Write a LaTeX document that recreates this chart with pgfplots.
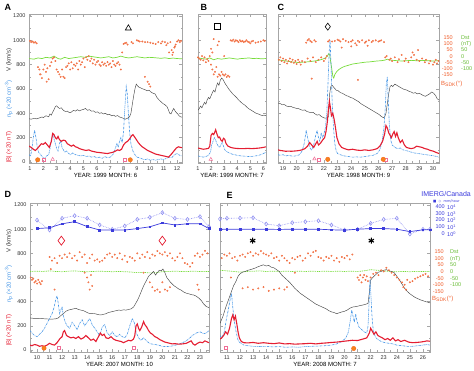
\documentclass[border=0pt]{standalone}
\usepackage{pgfplots}
\pgfplotsset{compat=1.18}
\usepackage{fontspec}
\setmainfont{Liberation Sans}
\newfontfamily\dejavu{DejaVu Sans}
\definecolor{cV}{RGB}{70,70,70}
\definecolor{cN}{RGB}{70,150,230}
\definecolor{cB}{RGB}{228,30,50}
\definecolor{cD}{RGB}{120,220,60}
\definecolor{cA}{RGB}{240,95,45}
\definecolor{cI}{RGB}{60,60,220}
\definecolor{cI2}{RGB}{135,135,240}
\definecolor{cO}{RGB}{245,130,30}
\definecolor{cP}{RGB}{240,110,150}
\newcommand\fs{\fontsize{5.5}{6}\selectfont}
\newcommand\fl{\fontsize{6}{7}\selectfont}
\pgfplotsset{
 panel/.style={
  scale only axis, height=149pt,
  ytick={0,200,...,1200}, minor y tick num=1,
  xtick distance=1, minor x tick num=1,
  tick align=inside, major tick length=3pt, minor tick length=1.5pt,
  axis line style={gray!70, line width=0.5pt},
  every tick/.style={gray!70, line width=0.4pt},
  tick label style={font=\fs, text=black!80},
  xticklabel style={yshift=-0.5pt},
  xlabel style={font=\fl, yshift=4pt},
  /pgf/number format/assume math mode=true,
  /pgf/number format/1000 sep={},
 },
 Vl/.style={cV, line width=0.45pt, no marks},
 Nl/.style={cN, line width=0.6pt, dash pattern=on 2pt off 0.8pt on 0.5pt off 0.8pt, no marks},
 Bl/.style={cB, line width=1.1pt, no marks},
 Dl/.style={cD, line width=0.7pt, no marks},
 Ang/.style={only marks, mark=*, mark size=0.8pt, mark options={fill=cA!60!white, draw=cA, line width=0.25pt}},
 Orng/.style={only marks, mark=*, mark size=2.2pt, mark options={fill=cO, draw=cO!80!red}},
 Pnk/.style={only marks, mark=triangle, mark size=2pt, mark options={draw=cP, line width=0.5pt}},
 PnkS/.style={only marks, mark=square, mark size=1.5pt, mark options={draw=cP, line width=0.5pt}},
 Im1/.style={cI, line width=0.7pt, mark=square*, mark size=0.9pt, mark options={fill=cI}},
 Im2/.style={cI2, line width=0.6pt, densely dotted, mark=diamond, mark size=2pt, mark options={solid, draw=cI2, line width=0.5pt}},
}
\begin{document}
\begin{tikzpicture}[x=1pt,y=1pt]
\useasboundingbox (0,0) rectangle (474,371);
% ---------------- Panel A ----------------
\begin{axis}[panel, at={(29pt,208pt)}, anchor=south west, width=153pt,
 xmin=0.93, xmax=12.37, ymin=-8, ymax=1216, xlabel={YEAR: 1999 MONTH: 6}]
\addplot[Ang] coordinates {(1.0,995)(1.1,985)(1.2,990)(1.3,980)(1.4,985)(1.5,975)(1.6,780)(1.7,760)(1.75,720)(1.8,720)(1.9,690)(2.0,760)(2.1,800)(2.2,740)(2.25,660)(2.3,770)(2.4,680)(2.5,790)(2.6,820)(2.7,850)(2.8,860)(2.9,830)(3.0,760)(3.1,740)(3.2,720)(3.3,700)(3.4,760)(3.5,700)(3.6,690)(3.7,780)(3.8,790)(3.9,810)(4.0,760)(4.1,820)(4.2,770)(4.3,800)(4.4,790)(4.5,810)(4.6,760)(4.7,830)(4.8,800)(4.9,820)(5.0,850)(5.1,780)(5.2,860)(5.3,840)(5.4,870)(5.5,830)(5.6,850)(5.7,810)(5.8,840)(5.9,800)(6.0,820)(6.1,830)(6.2,800)(6.3,790)(6.4,820)(6.5,800)(6.6,810)(6.7,790)(6.8,820)(6.9,800)(7.0,810)(7.1,780)(7.2,830)(7.3,800)(7.4,790)(7.5,810)(7.6,820)(7.7,800)(7.8,760)(7.9,900)(8.0,970)(8.1,975)(8.2,980)(8.3,965)(8.6,985)(8.7,975)(9.0,1000)(9.1,995)(9.2,990)(9.4,990)(9.6,985)(9.8,985)(10.0,980)(10.2,975)(10.4,970)(10.6,985)(10.8,975)(10.9,990)(11.1,985)(11.2,960)(11.3,975)(11.5,985)(11.6,920)(11.7,900)(11.8,940)(11.9,965)(12.0,990)(12.1,1000)(12.2,985)(12.3,995)(9.6,700)(9.8,660)(9.9,640)(10.0,620)(11.4,900)(11.65,880)(11.85,950)};
\addplot[Dl] coordinates {(0.93,850)(1.3,845)(1.6,855)(1.9,850)(2.2,860)(2.5,855)(2.8,870)(3.1,850)(3.3,845)(3.6,860)(3.9,850)(4.2,855)(4.5,860)(4.8,865)(5.1,860)(5.4,870)(5.7,865)(6.0,860)(6.3,855)(6.6,860)(6.9,865)(7.2,855)(7.5,860)(7.8,870)(8.1,860)(8.4,855)(8.7,860)(9.0,865)(9.3,860)(9.6,855)(9.9,860)(10.2,858)(10.5,855)(10.8,852)(11.1,856)(11.4,850)(11.7,854)(12.0,850)(12.37,848)};
\addplot[Vl] coordinates {(0.93,355)(1.1,352)(1.3,358)(1.5,355)(1.7,362)(1.9,370)(2.0,365)(2.2,380)(2.4,372)(2.5,395)(2.6,385)(2.7,410)(2.8,430)(2.9,455)(3.0,462)(3.1,450)(3.2,440)(3.35,445)(3.5,425)(3.65,415)(3.8,418)(3.95,405)(4.1,410)(4.25,425)(4.4,418)(4.55,430)(4.7,420)(4.85,428)(5.0,432)(5.15,440)(5.3,425)(5.45,430)(5.6,418)(5.75,420)(5.9,408)(6.05,412)(6.2,400)(6.35,405)(6.5,395)(6.65,400)(6.8,388)(6.95,392)(7.1,380)(7.25,385)(7.4,375)(7.55,382)(7.7,370)(7.85,365)(8.0,358)(8.15,352)(8.3,360)(8.45,372)(8.55,400)(8.65,470)(8.75,540)(8.85,600)(8.95,640)(9.05,625)(9.15,615)(9.3,608)(9.45,600)(9.6,595)(9.75,585)(9.9,590)(10.05,575)(10.2,565)(10.35,560)(10.5,530)(10.65,510)(10.8,495)(10.95,480)(11.1,470)(11.25,455)(11.35,430)(11.45,400)(11.55,395)(11.65,420)(11.75,440)(11.85,420)(11.95,405)(12.05,395)(12.15,380)(12.25,372)(12.37,368)};
\addplot[Nl] coordinates {(0.93,60)(1.05,50)(1.15,110)(1.25,200)(1.35,260)(1.45,200)(1.55,120)(1.65,80)(1.8,60)(1.95,40)(2.1,30)(2.25,50)(2.4,60)(2.5,110)(2.6,180)(2.7,230)(2.8,190)(2.9,150)(3.0,110)(3.1,90)(3.2,150)(3.3,175)(3.4,120)(3.5,100)(3.6,80)(3.75,90)(3.9,70)(4.05,60)(4.2,75)(4.4,60)(4.6,55)(4.8,50)(5.0,55)(5.2,45)(5.4,50)(5.6,40)(5.8,45)(6.0,35)(6.2,40)(6.4,30)(6.6,45)(6.8,35)(7.0,40)(7.2,60)(7.35,100)(7.5,150)(7.6,120)(7.7,170)(7.8,200)(7.9,160)(8.0,250)(8.1,450)(8.2,620)(8.28,560)(8.35,420)(8.45,250)(8.55,150)(8.7,90)(8.85,60)(9.0,40)(9.2,35)(9.4,25)(9.6,20)(9.8,25)(10.0,15)(10.2,20)(10.4,15)(10.6,20)(10.8,25)(11.0,20)(11.2,30)(11.4,40)(11.6,35)(11.8,60)(12.0,70)(12.2,55)(12.37,50)};
\addplot[Bl] coordinates {(0.93,130)(1.1,120)(1.25,105)(1.4,95)(1.55,110)(1.7,130)(1.85,150)(2.0,145)(2.15,160)(2.3,140)(2.45,120)(2.6,170)(2.7,235)(2.8,225)(2.9,200)(3.0,190)(3.1,210)(3.2,185)(3.35,170)(3.5,180)(3.65,175)(3.8,150)(3.95,140)(4.1,130)(4.25,140)(4.4,125)(4.55,120)(4.7,110)(4.85,105)(5.0,100)(5.2,95)(5.4,100)(5.6,90)(5.8,85)(6.0,80)(6.2,78)(6.4,75)(6.6,72)(6.8,70)(7.0,75)(7.2,80)(7.4,90)(7.55,100)(7.7,95)(7.85,105)(8.0,140)(8.15,160)(8.3,170)(8.45,190)(8.6,215)(8.7,225)(8.8,210)(8.95,185)(9.1,160)(9.25,140)(9.4,125)(9.6,110)(9.8,95)(10.0,85)(10.2,75)(10.4,65)(10.6,60)(10.8,55)(11.0,50)(11.2,45)(11.35,40)(11.5,55)(11.65,75)(11.8,95)(11.95,115)(12.1,125)(12.25,120)(12.37,118)};
\addplot[only marks, mark=triangle, mark size=3.5pt, mark options={draw=black, line width=0.6pt}] coordinates {(8.36,1099)};
\addplot[Pnk] coordinates {(2.7,22)};
\addplot[PnkS] coordinates {(2.05,18)(8.1,18)};
\addplot[Orng] coordinates {(1.58,18)(8.5,18)};
\end{axis}
% ---------------- Panel B ----------------
\begin{axis}[panel, at={(198pt,208pt)}, anchor=south west, width=68pt,
 xmin=1.0, xmax=6.2, ymin=-8, ymax=1216, yticklabels={}, xlabel={YEAR: 1999 MONTH: 7}]
\addplot[Ang] coordinates {(1.0,860)(1.1,850)(1.2,840)(1.3,870)(1.4,835)(1.5,860)(1.6,820)(1.7,845)(1.8,830)(1.9,870)(2.0,800)(2.1,760)(2.2,720)(2.3,740)(2.4,780)(2.5,700)(2.6,720)(2.7,710)(2.8,740)(2.9,720)(3.0,710)(3.1,720)(3.2,700)(3.3,710)(3.4,700)(2.5,960)(2.6,990)(2.2,1010)(2.0,930)(2.1,900)(3.0,870)(3.5,1000)(3.6,995)(3.7,1005)(3.8,990)(3.9,1000)(4.0,995)(4.1,985)(4.2,1000)(4.3,990)(4.4,995)(4.5,985)(4.6,990)(4.7,1000)(4.8,990)(4.9,985)(5.0,975)(5.1,990)(5.2,995)(5.4,980)(5.6,985)(5.8,990)(6.0,1000)(6.1,995)};
\addplot[Dl] coordinates {(1.0,855)(1.3,850)(1.6,845)(1.9,855)(2.2,840)(2.5,850)(2.8,845)(3.1,850)(3.4,855)(3.7,850)(4.0,845)(4.3,850)(4.6,852)(4.9,855)(5.2,850)(5.5,852)(5.8,848)(6.2,850)};
\addplot[Vl] coordinates {(1.0,425)(1.1,440)(1.2,460)(1.3,445)(1.4,470)(1.5,490)(1.6,475)(1.7,510)(1.8,530)(1.9,520)(2.0,545)(2.1,570)(2.2,590)(2.3,575)(2.4,620)(2.5,650)(2.6,630)(2.7,670)(2.8,690)(2.9,680)(3.0,660)(3.1,640)(3.2,625)(3.35,600)(3.5,580)(3.65,560)(3.8,545)(3.95,530)(4.1,510)(4.25,495)(4.4,480)(4.55,470)(4.7,455)(4.85,440)(5.0,430)(5.15,420)(5.3,410)(5.45,400)(5.6,395)(5.75,388)(5.9,382)(6.05,385)(6.2,380)};
\addplot[Nl] coordinates {(1.0,50)(1.2,45)(1.4,40)(1.6,45)(1.8,55)(1.95,80)(2.05,140)(2.15,170)(2.25,200)(2.35,180)(2.45,150)(2.55,130)(2.65,120)(2.75,140)(2.85,160)(2.95,130)(3.05,100)(3.2,85)(3.4,75)(3.6,65)(3.8,60)(4.0,55)(4.3,50)(4.6,48)(4.9,45)(5.2,47)(5.5,52)(5.8,60)(6.0,70)(6.2,80)};
\addplot[Bl] coordinates {(1.0,115)(1.2,110)(1.4,105)(1.6,108)(1.8,112)(1.9,130)(2.0,220)(2.1,235)(2.2,225)(2.3,250)(2.35,265)(2.45,230)(2.55,200)(2.65,205)(2.75,180)(2.85,170)(2.95,195)(3.05,185)(3.15,150)(3.3,130)(3.5,120)(3.7,115)(3.9,112)(4.2,110)(4.5,110)(4.8,112)(5.1,110)(5.4,112)(5.7,115)(6.0,120)(6.2,125)};
\addplot[only marks, mark=square, mark size=3pt, mark options={draw=black, line width=0.6pt}] coordinates {(2.49,1112)};
\addplot[Pnk] coordinates {(1.98,22)};
\end{axis}
% ---------------- Panel C ----------------
\begin{axis}[panel, at={(278pt,208pt)}, anchor=south west, width=161pt,
 xmin=18.63, xmax=30.44, ymin=-8, ymax=1216, yticklabels={}, xlabel={YEAR: 1998 MONTH: 9}]
\addplot[Ang] coordinates {(18.7,840)(18.8,860)(18.9,830)(19.0,850)(19.1,820)(19.2,840)(19.3,810)(19.4,830)(19.5,850)(19.6,820)(19.7,840)(19.8,815)(19.9,830)(20.0,805)(20.1,840)(20.2,820)(20.3,800)(20.4,830)(20.6,820)(20.8,850)(21.0,830)(21.2,860)(21.4,820)(21.6,840)(21.8,860)(22.0,830)(22.1,850)(22.2,870)(20.7,980)(20.8,1000)(20.9,1010)(21.0,995)(21.1,985)(21.3,1000)(21.4,990)(22.3,990)(22.4,1000)(22.6,990)(22.8,995)(23.0,1005)(23.1,1000)(23.2,990)(23.4,1010)(23.6,995)(23.8,985)(24.0,990)(24.1,1000)(24.3,975)(24.5,995)(24.6,985)(24.8,1000)(25.0,980)(25.1,990)(25.3,1000)(25.5,985)(25.6,995)(25.8,1000)(26.0,990)(26.1,995)(26.2,1000)(26.4,985)(24.0,950)(24.4,960)(25.2,955)(23.3,940)(21.1,685)(24.5,675)(26.5,860)(26.6,870)(26.8,840)(26.9,850)(27.0,830)(27.2,860)(27.4,820)(27.5,845)(27.7,880)(27.9,830)(28.0,850)(28.2,820)(28.4,860)(28.5,900)(28.6,880)(28.8,840)(28.9,920)(29.0,830)(29.2,850)(29.4,820)(29.5,840)(29.7,810)(29.8,830)(30.0,800)(30.1,820)(30.2,840)(30.3,810)(30.4,830)};
\addplot[Dl] coordinates {(18.63,840)(18.9,835)(19.2,830)(19.5,825)(19.8,820)(20.1,818)(20.4,820)(20.7,822)(21.0,825)(21.3,830)(21.6,835)(21.9,845)(22.1,855)(22.25,870)(22.35,890)(22.42,880)(22.5,820)(22.58,760)(22.66,700)(22.72,690)(22.8,720)(22.95,745)(23.1,760)(23.3,775)(23.5,785)(23.8,795)(24.1,805)(24.4,810)(24.7,815)(25.0,820)(25.3,822)(25.6,826)(25.9,830)(26.2,832)(26.5,838)(26.65,845)(26.8,838)(27.1,835)(27.4,832)(27.7,830)(28.0,832)(28.4,835)(28.8,832)(29.2,835)(29.6,832)(30.0,830)(30.44,832)};
\addplot[Vl] coordinates {(18.63,485)(18.8,480)(18.95,470)(19.1,472)(19.25,460)(19.4,455)(19.55,458)(19.7,450)(19.85,445)(20.0,440)(20.15,438)(20.3,430)(20.45,425)(20.6,428)(20.75,415)(20.9,410)(21.05,405)(21.2,408)(21.35,395)(21.5,385)(21.65,390)(21.8,375)(21.95,365)(22.1,360)(22.25,362)(22.35,380)(22.42,560)(22.5,620)(22.6,630)(22.75,610)(22.9,590)(23.05,585)(23.2,570)(23.35,565)(23.5,555)(23.65,545)(23.8,540)(23.95,530)(24.1,525)(24.25,515)(24.4,505)(24.55,495)(24.7,480)(24.85,470)(25.0,460)(25.15,450)(25.3,440)(25.45,430)(25.6,420)(25.75,410)(25.9,400)(26.05,390)(26.2,375)(26.35,365)(26.45,370)(26.55,400)(26.65,480)(26.75,560)(26.85,620)(26.95,630)(27.05,620)(27.2,640)(27.35,630)(27.5,620)(27.65,610)(27.8,600)(27.95,595)(28.1,590)(28.25,580)(28.4,575)(28.55,565)(28.7,570)(28.85,560)(29.0,565)(29.15,555)(29.3,545)(29.45,540)(29.6,550)(29.75,560)(29.9,575)(30.05,565)(30.2,545)(30.3,520)(30.44,510)};
\addplot[Nl] coordinates {(18.63,60)(18.8,55)(19.0,60)(19.2,50)(19.4,55)(19.6,50)(19.8,48)(20.0,52)(20.2,60)(20.4,90)(20.55,150)(20.7,260)(20.8,200)(20.9,150)(21.0,110)(21.1,100)(21.25,140)(21.4,220)(21.5,260)(21.6,200)(21.7,170)(21.8,240)(21.9,200)(22.0,230)(22.1,280)(22.2,380)(22.3,650)(22.38,900)(22.45,1000)(22.52,800)(22.6,500)(22.7,280)(22.8,150)(22.9,90)(23.0,70)(23.2,60)(23.5,50)(23.8,45)(24.1,40)(24.4,42)(24.7,40)(25.0,45)(25.3,50)(25.6,55)(25.9,70)(26.1,100)(26.25,160)(26.4,280)(26.5,450)(26.58,650)(26.65,700)(26.72,500)(26.8,300)(26.9,180)(27.0,140)(27.2,120)(27.4,110)(27.6,115)(27.8,100)(28.0,95)(28.3,85)(28.6,75)(28.9,70)(29.2,65)(29.5,60)(29.8,55)(30.1,50)(30.44,40)};
\addplot[Bl] coordinates {(18.63,100)(18.8,95)(19.0,92)(19.2,88)(19.4,90)(19.6,88)(19.8,90)(20.0,92)(20.2,95)(20.4,100)(20.6,110)(20.8,130)(20.95,160)(21.1,140)(21.25,120)(21.4,150)(21.5,170)(21.6,140)(21.75,155)(21.9,180)(22.05,200)(22.15,250)(22.25,330)(22.32,420)(22.4,500)(22.47,450)(22.55,380)(22.65,400)(22.75,350)(22.85,280)(22.95,200)(23.1,150)(23.3,120)(23.5,110)(23.8,100)(24.1,105)(24.4,98)(24.7,95)(25.0,100)(25.3,95)(25.6,100)(25.9,110)(26.1,130)(26.3,170)(26.45,230)(26.55,300)(26.65,280)(26.75,240)(26.85,220)(26.95,200)(27.05,230)(27.15,250)(27.25,210)(27.35,240)(27.45,200)(27.6,160)(27.75,180)(27.9,140)(28.05,120)(28.2,115)(28.4,110)(28.6,115)(28.8,130)(29.0,125)(29.2,120)(29.4,110)(29.6,105)(29.8,95)(30.0,90)(30.2,80)(30.44,70)};
\addplot[only marks, mark=diamond, mark size=3.5pt, mark options={draw=black, line width=0.6pt}] coordinates {(22.28,1112)};
\addplot[Pnk] coordinates {(21.3,25)};
\addplot[PnkS] coordinates {(21.6,22)(26.55,22)};
\addplot[Orng] coordinates {(22.28,22)(26.35,22)};
\end{axis}
% ---------------- Panel D ----------------
\begin{axis}[panel, at={(30pt,19pt)}, anchor=south west, width=179pt,
 xmin=9.44, xmax=23.72, ymin=-17, ymax=1217, xlabel={YEAR: 2007 MONTH: 10}]
\addplot[Ang] coordinates {(9.5,600)(9.6,580)(9.7,590)(9.8,560)(9.9,570)(10.0,550)(10.1,580)(10.2,560)(10.3,545)(10.4,570)(11.0,770)(11.2,740)(11.4,760)(11.6,720)(11.8,780)(12.0,760)(12.2,790)(12.4,770)(12.6,800)(12.8,760)(13.0,780)(13.2,740)(13.4,810)(13.6,770)(13.8,790)(14.0,720)(14.2,760)(14.4,790)(14.6,740)(14.8,750)(15.0,730)(15.2,740)(15.4,760)(15.6,790)(15.8,800)(16.0,770)(16.2,790)(16.4,760)(16.6,800)(16.8,750)(17.0,780)(17.2,730)(17.4,770)(17.6,760)(17.8,740)(18.0,800)(18.2,760)(18.4,790)(18.6,770)(18.8,810)(19.0,760)(19.2,790)(19.4,780)(19.6,820)(19.8,800)(20.0,790)(20.2,810)(20.4,780)(20.6,800)(20.8,760)(21.0,740)(21.2,770)(21.4,800)(21.6,760)(21.8,720)(22.0,710)(22.2,690)(22.4,720)(22.6,780)(22.8,800)(23.0,770)(23.2,790)(23.4,820)(23.6,800)(11.1,670)(11.4,500)(14.0,600)(14.1,560)(14.2,500)(14.3,620)(14.4,530)(13.8,640)(18.5,640)(19.0,560)(19.2,520)(19.4,490)(19.6,500)(19.8,480)(20.0,560)(20.2,500)(20.4,490)(20.6,520)(22.8,540)(22.9,500)};
\addplot[Dl, dash pattern=on 1pt off 0.8pt] coordinates {(9.44,650)(10.0,652)(10.5,650)(11.0,655)(11.5,650)(12.0,648)(12.5,652)(13.0,655)(13.5,650)(14.0,648)(14.5,650)(15.0,652)(15.5,650)(16.0,648)(16.5,650)(17.0,648)(17.5,645)(18.0,640)(18.5,642)(19.0,638)(19.5,640)(20.0,648)(20.5,650)(21.0,652)(21.5,650)(22.0,650)(22.5,652)(23.0,650)(23.72,650)};
\addplot[Vl] coordinates {(9.44,265)(9.7,262)(10.0,262)(10.3,260)(10.6,258)(10.9,256)(11.2,255)(11.5,258)(11.7,265)(11.9,285)(12.1,300)(12.3,320)(12.5,330)(12.7,335)(12.9,340)(13.1,345)(13.3,335)(13.5,330)(13.7,325)(13.9,315)(14.1,305)(14.3,300)(14.5,302)(14.7,298)(14.9,292)(15.1,290)(15.3,295)(15.5,300)(15.7,310)(15.9,315)(16.1,320)(16.3,325)(16.5,330)(16.7,328)(16.9,332)(17.1,330)(17.3,335)(17.5,340)(17.7,355)(17.9,390)(18.1,430)(18.3,480)(18.5,530)(18.7,570)(18.9,610)(19.1,630)(19.3,650)(19.45,620)(19.6,640)(19.75,660)(19.9,655)(20.05,670)(20.2,640)(20.35,600)(20.5,580)(20.65,560)(20.8,545)(20.95,530)(21.1,520)(21.3,505)(21.5,495)(21.7,480)(21.9,470)(22.1,465)(22.3,458)(22.5,455)(22.7,445)(22.9,430)(23.1,410)(23.3,380)(23.5,360)(23.72,350)};
\addplot[Nl] coordinates {(9.44,160)(9.6,140)(9.8,120)(10.0,110)(10.2,130)(10.4,150)(10.6,180)(10.8,220)(11.0,260)(11.2,300)(11.35,350)(11.5,420)(11.6,450)(11.7,380)(11.8,300)(11.9,330)(12.0,360)(12.1,280)(12.25,230)(12.4,200)(12.6,180)(12.8,230)(13.0,200)(13.2,170)(13.4,220)(13.6,250)(13.8,200)(14.0,230)(14.2,260)(14.4,210)(14.6,180)(14.8,150)(15.0,120)(15.2,190)(15.4,210)(15.6,140)(15.8,120)(16.0,150)(16.2,120)(16.4,110)(16.6,130)(16.8,110)(17.0,100)(17.2,130)(17.4,200)(17.6,260)(17.75,230)(17.9,150)(18.1,100)(18.3,80)(18.5,100)(18.7,80)(18.9,60)(19.1,50)(19.4,45)(19.7,40)(20.0,30)(20.3,28)(20.6,30)(20.9,35)(21.2,45)(21.5,55)(21.8,70)(22.1,90)(22.4,120)(22.7,140)(23.0,150)(23.3,135)(23.5,140)(23.72,160)};
\addplot[Bl] coordinates {(9.44,40)(9.6,35)(9.8,45)(10.0,40)(10.2,30)(10.4,35)(10.6,30)(10.8,40)(11.0,55)(11.2,45)(11.4,40)(11.6,60)(11.8,90)(12.0,110)(12.1,150)(12.2,160)(12.35,120)(12.5,110)(12.7,100)(12.9,105)(13.1,95)(13.3,110)(13.5,90)(13.7,100)(13.9,120)(14.1,100)(14.3,80)(14.5,90)(14.7,70)(14.9,110)(15.05,140)(15.2,120)(15.35,130)(15.5,100)(15.7,95)(15.9,110)(16.1,90)(16.3,80)(16.5,75)(16.7,70)(16.9,60)(17.1,70)(17.3,80)(17.5,75)(17.7,90)(17.8,120)(17.9,200)(18.0,215)(18.1,180)(18.2,160)(18.35,190)(18.5,235)(18.6,210)(18.75,190)(18.9,160)(19.05,140)(19.2,130)(19.4,110)(19.6,100)(19.8,85)(20.0,75)(20.2,65)(20.4,60)(20.6,55)(20.8,50)(21.0,52)(21.3,48)(21.6,50)(21.9,55)(22.1,65)(22.3,75)(22.45,50)(22.6,40)(22.8,55)(23.0,65)(23.2,60)(23.4,75)(23.6,65)(23.72,60)};
\addplot[Im2] coordinates {(10,1075)(11,993)(12,1090)(13,1112)(14,1090)(15,1035)(16,999)(17,1026)(18,1081)(19,1098)(20,1137)(21,1090)(22,1081)(23,1104)(23.72,1021)};
\addplot[Im1] coordinates {(10,1005)(11,1012)(12,1045)(13,1062)(14,1022)(15,993)(16,993)(17,993)(18,1005)(19,1020)(20,1052)(21,1035)(22,1045)(23,1045)(23.72,1005)};
\addplot[only marks, mark=diamond, mark size=4.5pt, mark options={draw=cB, line width=0.7pt}] coordinates {(11.94,905)(20.0,905)};
\addplot[Orng] coordinates {(10.56,15)};
\addplot[PnkS] coordinates {(11.7,15)(17.7,15)};
\end{axis}
% ---------------- Panel E ----------------
\begin{axis}[panel, at={(220pt,19pt)}, anchor=south west, width=210pt,
 xmin=10.47, xmax=26.54, ymin=-17, ymax=1217, yticklabels={}, xlabel={YEAR: 2008 MONTH: 7}]
\addplot[Ang] coordinates {(10.6,760)(10.8,790)(11.0,780)(11.2,800)(11.4,760)(11.6,770)(11.8,740)(12.0,780)(12.2,790)(12.4,770)(12.6,800)(12.8,810)(13.0,780)(13.2,800)(13.4,790)(13.6,820)(13.8,800)(14.0,790)(14.2,780)(14.4,800)(14.6,760)(14.8,770)(15.0,740)(15.2,780)(15.4,760)(15.6,740)(15.8,720)(16.0,760)(16.2,750)(16.4,770)(16.6,780)(16.8,740)(17.0,760)(17.2,800)(17.4,780)(17.6,810)(17.8,820)(18.0,770)(18.2,760)(18.4,740)(18.6,770)(18.8,760)(19.0,780)(19.2,740)(19.4,760)(19.6,730)(19.8,770)(20.0,760)(20.2,780)(20.4,750)(20.6,790)(12.2,510)(12.6,520)(13.0,500)(13.4,510)(13.8,520)(14.2,490)(14.6,500)(15.0,510)(15.4,500)(15.6,520)(16.2,640)(11.3,600)(21.0,600)(21.1,580)(21.2,620)(21.3,560)(21.4,600)(21.5,620)(21.6,580)(21.7,610)(21.8,570)(22.0,600)(22.2,630)(22.4,640)(22.6,620)(22.8,660)(23.0,650)(23.2,680)(23.4,660)(23.6,640)(23.8,620)(24.0,600)(24.2,580)(24.4,560)(24.6,540)(24.8,580)(25.0,560)(25.2,570)(25.4,590)(25.6,600)(25.8,610)(26.0,620)(26.2,630)(26.4,610)(24.5,520)(24.7,500)};
\addplot[Dl, dash pattern=on 1pt off 0.8pt] coordinates {(10.47,660)(11.0,655)(11.5,650)(12.0,645)(12.5,650)(13.0,652)(13.5,655)(14.0,650)(14.5,652)(15.0,650)(15.5,652)(16.0,650)(16.5,652)(17.0,650)(17.5,652)(18.0,650)(18.5,652)(19.0,650)(19.5,652)(20.0,650)(20.5,652)(21.0,650)(21.5,655)(22.0,665)(22.5,660)(23.0,655)(23.5,650)(24.0,648)(24.5,650)(25.0,648)(25.5,650)(26.0,650)(26.54,650)};
\addplot[Vl] coordinates {(10.47,220)(10.7,280)(10.9,350)(11.1,410)(11.3,470)(11.5,530)(11.7,570)(11.85,610)(12.0,630)(12.2,645)(12.4,650)(12.6,660)(12.8,665)(13.0,672)(13.2,680)(13.4,690)(13.6,698)(13.8,705)(14.0,695)(14.2,700)(14.4,685)(14.6,680)(14.8,665)(15.0,650)(15.2,620)(15.4,600)(15.6,580)(15.8,560)(16.0,535)(16.2,510)(16.4,490)(16.6,470)(16.8,455)(17.0,440)(17.2,425)(17.4,410)(17.6,395)(17.8,380)(18.0,370)(18.2,360)(18.4,350)(18.6,340)(18.8,325)(19.0,315)(19.2,310)(19.4,300)(19.6,308)(19.8,315)(20.0,320)(20.2,330)(20.4,345)(20.6,355)(20.8,358)(21.0,362)(21.2,368)(21.4,372)(21.6,378)(21.8,385)(21.9,480)(22.0,580)(22.2,605)(22.4,625)(22.6,645)(22.8,650)(23.0,660)(23.2,665)(23.4,655)(23.6,650)(23.8,640)(24.0,610)(24.2,580)(24.4,545)(24.6,510)(24.8,485)(25.0,465)(25.2,450)(25.4,435)(25.6,425)(25.8,415)(26.0,408)(26.2,400)(26.4,395)(26.54,390)};
\addplot[Nl] coordinates {(10.47,120)(10.6,100)(10.8,150)(10.95,250)(11.1,330)(11.25,420)(11.35,470)(11.45,350)(11.55,250)(11.7,150)(11.85,80)(12.0,60)(12.3,40)(12.6,35)(13.0,30)(13.5,28)(14.0,30)(14.5,25)(15.0,28)(15.5,22)(16.0,25)(16.5,22)(17.0,28)(17.5,30)(18.0,32)(18.5,35)(19.0,40)(19.4,50)(19.8,70)(20.1,100)(20.3,150)(20.45,250)(20.55,330)(20.65,280)(20.75,230)(20.85,300)(20.95,240)(21.1,190)(21.3,170)(21.5,150)(21.7,140)(21.8,200)(21.88,400)(21.95,580)(22.02,450)(22.1,280)(22.2,160)(22.35,110)(22.5,90)(22.8,70)(23.1,60)(23.4,55)(23.7,50)(24.0,40)(24.4,35)(24.8,30)(25.2,30)(25.6,35)(26.0,40)(26.3,45)(26.54,40)};
\addplot[Bl] coordinates {(10.47,90)(10.6,100)(10.75,120)(10.9,150)(11.05,130)(11.2,180)(11.35,260)(11.45,290)(11.55,250)(11.65,280)(11.75,220)(11.85,150)(11.95,100)(12.1,70)(12.3,60)(12.6,58)(13.0,62)(13.4,55)(13.8,60)(14.2,55)(14.6,52)(15.0,58)(15.4,50)(15.8,52)(16.2,48)(16.6,50)(17.0,52)(17.4,55)(17.8,50)(18.2,55)(18.6,58)(19.0,62)(19.4,65)(19.8,70)(20.2,75)(20.6,80)(21.0,78)(21.4,90)(21.7,100)(21.9,140)(22.0,180)(22.1,160)(22.25,130)(22.4,150)(22.55,120)(22.7,110)(22.9,100)(23.1,85)(23.3,95)(23.5,80)(23.7,100)(23.9,75)(24.1,85)(24.3,70)(24.6,80)(24.9,65)(25.2,60)(25.5,62)(25.8,65)(26.1,70)(26.3,75)(26.54,72)};
\addplot[Im2] coordinates {(10.47,1085)(11,1090)(12,1092)(13,1095)(14,1043)(15,1029)(16,1054)(17,1062)(18,1070)(19,1035)(20,993)(21,999)(22,1048)(23,1081)(24,1090)(25,960)(26,999)(26.54,1000)};
\addplot[Im1] coordinates {(10.47,1000)(11,1000)(12,1000)(13,1000)(14,1000)(15,998)(16,1000)(17,1000)(18,1000)(19,995)(20,992)(21,1000)(22,1005)(23,1005)(24,1000)(25,980)(26,995)(26.54,995)};
\addplot[only marks, mark=asterisk, mark size=3pt, mark options={draw=black, line width=1.1pt}] coordinates {(12.97,905)(22.05,905)};
\addplot[PnkS] coordinates {(10.9,15)};
\addplot[Orng] coordinates {(20.7,12)};
\end{axis}
% ---------------- panel letters ----------------
\node[anchor=west, font=\fontsize{9}{10}\selectfont\bfseries] at (1,364) {A};
\node[anchor=west, font=\fontsize{9}{10}\selectfont\bfseries] at (197,364) {B};
\node[anchor=west, font=\fontsize{9}{10}\selectfont\bfseries] at (274,364) {C};
\node[anchor=west, font=\fontsize{9}{10}\selectfont\bfseries] at (1,177) {D};
\node[anchor=west, font=\fontsize{9}{10}\selectfont\bfseries] at (223,176) {E};
% ---------------- left axis titles ----------------
\foreach \yb/\yn/\yv in {224/272/311, 41/87/130} {
 \node[rotate=90, font=\fl, text=cB] at (9,\yb) {|B| (×20 nT)};
 \node[rotate=90, font=\fl, text=cN] at (9,\yn) {n\textsubscript{p} (×20 cm\textsuperscript{-3})};
 \node[rotate=90, font=\fl, text=black!80] at (9,\yv) {V (km/s)};
}
% ---------------- right labels C ----------------
\foreach \t/\yy in {150/333,100/327,50/321,0/314,-50/308,-100/302,-150/296} {
 \node[anchor=east, font=\fs, text=cA, inner sep=0pt] at (453,\yy) {\t};
}
\foreach \t/\yy in {Dst/333,(nT)/327,50/321,0/314,-50/308,-100/302} {
 \node[anchor=west, font=\fs, text=cD!85!black, inner sep=0pt] at (461,\yy) {\t};
}
\node[anchor=west, font=\fl, text=cA, inner sep=0pt] at (441,287) {B\textsubscript{SDK}(°)};
% ---------------- right labels E ----------------
\foreach \t/\yy in {150/119,100/112,50/106,0/99,-50/92,-100/86,-150/79} {
 \node[anchor=east, font=\fs, text=cA, inner sep=0pt] at (444,\yy) {\t};
}
\foreach \t/\yy in {Dst/119,(nT)/112,50/106,0/99,-50/92,-100/86} {
 \node[anchor=west, font=\fs, text=cD!85!black, inner sep=0pt] at (450,\yy) {\t};
}
\node[anchor=west, font=\fl, text=cA, inner sep=0pt] at (432,72) {B\textsubscript{SDK}(°)};
\node[anchor=east, font=\fontsize{7}{8}\selectfont, text=cI, inner sep=0pt] at (471,177) {IMERG/Canada};
\node[anchor=west, font=\dejavu\fontsize{3.5}{4}\selectfont, text=cI, inner sep=0pt] at (433,170) {■\ \ ◇ \ mm/hour};
\foreach \a/\b/\yy in {400/4/164,300/3/157,200/2/151,100/1/144,0/0/137} {
 \node[anchor=east, font=\fs, text=cI, inner sep=0pt] at (445,\yy) {\a};
 \node[anchor=west, font=\fs, text=cI, inner sep=0pt] at (447,\yy) {10\textsuperscript{\b}};
}
\end{tikzpicture}
\end{document}
